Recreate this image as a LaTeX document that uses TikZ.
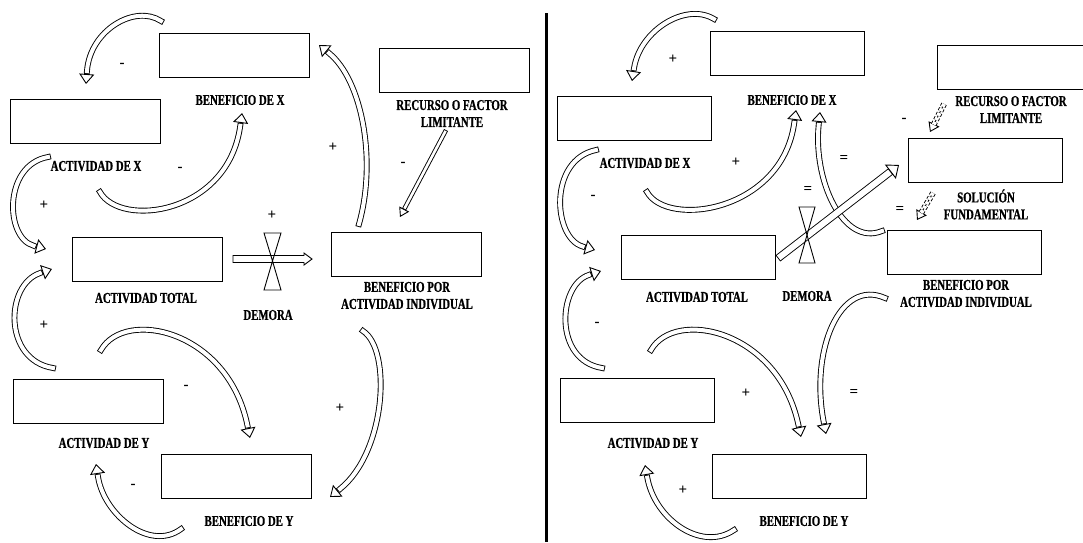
\documentclass[tikz,border=0pt]{standalone}
\usepackage{fontspec}
\setmainfont{Liberation Serif}[FakeStretch=0.72, BoldFeatures={FakeBold=0.8}]
\newfontfamily\signfont{Liberation Serif}
\usetikzlibrary{arrows.meta}
\newcommand\hollowarrow[3]{%
  \draw[line width=0.9pt, -{Triangle[open,line width=0.9pt,#2]}] #3;
  \draw[line width=0.9pt, double=white, #1] #3;}
\newcommand\curvedarrow[1]{\hollowarrow{cv}{length=10pt, width=15pt}{#1}}
\begin{document}
\begin{tikzpicture}[x=1pt,y=-1pt,
  boxL/.style={draw, line width=0.9pt, minimum width=150pt, minimum height=44pt, inner sep=0pt},
  boxR/.style={draw, line width=0.9pt, minimum width=154pt, minimum height=44pt, inner sep=0pt},
  lbl/.style={font=\bfseries\fontsize{15}{17}\selectfont, align=center, inner sep=0pt},
  sgn/.style={font=\signfont\bfseries\fontsize{15}{15}\selectfont, inner sep=0pt},
  cv/.style={double distance=4pt, line cap=rect, shorten >=12.9pt},
  valve/.style={draw, line width=0.9pt, fill=none},
  flow/.style={draw, line width=0.9pt, fill=white, line join=miter}]
\useasboundingbox (0,0) rectangle (1083,542);
% divider
\coordinate (dvt) at (546,13);
\coordinate (dvb) at (546,542);
\draw[line width=3pt] (dvt) -- (dvb);

%================ LEFT PANEL ================
\node[boxL] (bxL) at (234,55.5) {};
\node[boxL] (axL) at (85.5,121) {};
\node[boxL] (rlL) at (454,70) {};
\node[boxL] (atL) at (147,259) {};
\node[boxL] (bpL) at (406,254) {};
\node[boxL] (ayL) at (88,401.5) {};
\node[boxL] (byL) at (236,476) {};

\node[lbl] (tbxL) at (240,100) {BENEFICIO DE X};
\node[lbl] (taxL) at (96,166) {ACTIVIDAD DE X};
\node[lbl] (trlL) at (452,113.5) {RECURSO O FACTOR\\LIMITANTE};
\node[lbl] (tatL) at (146,298) {ACTIVIDAD TOTAL};
\node[lbl] (tdmL) at (268,315) {DEMORA};
\node[lbl] (tbpL) at (407,295.5) {BENEFICIO POR\\ACTIVIDAD INDIVIDUAL};
\node[lbl] (tayL) at (104,443) {ACTIVIDAD DE Y};
\node[lbl] (tbyL) at (249,521) {BENEFICIO DE Y};

\node[sgn] (s1L) at (122,65) {-};
\node[sgn] (s2L) at (180,169) {-};
\node[sgn] (s3L) at (44,205) {+};
\node[sgn] (s4L) at (333,147) {+};
\node[sgn] (s5L) at (403,164) {-};
\node[sgn] (s6L) at (272,215) {+};
\node[sgn] (s7L) at (44,325) {+};
\node[sgn] (s8L) at (186,387) {-};
\node[sgn] (s9L) at (340,408) {+};
\node[sgn] (s10L) at (133,486) {-};

\coordinate (a1t) at (161,21);  \coordinate (a1h) at (86,84);
\coordinate (a2t) at (100,192); \coordinate (a2h) at (242,113);
\coordinate (a3t) at (48,157);  \coordinate (a3h) at (46,249);
\coordinate (a4t) at (53,368);  \coordinate (a4h) at (52,269);
\coordinate (a5t) at (101,350); \coordinate (a5h) at (250,438);
\coordinate (a6t) at (181,529); \coordinate (a6h) at (96,464);
\coordinate (a7t) at (359,224); \coordinate (a7h) at (319,45);
\coordinate (a8t) at (445,132); \coordinate (a8h) at (400,217);
\coordinate (a9t) at (363,331); \coordinate (a9h) at (330,497);
\coordinate (flowLt) at (233,259);

\curvedarrow{(a1t) .. controls (135,4) and (90,30) .. (a1h)}
\curvedarrow{(a2t) .. controls (120,228) and (228,215) .. (a2h)}
\curvedarrow{(a3t) .. controls (3,165) and (5,238) .. (a3h)}
\curvedarrow{(a4t) .. controls (3,360) and (5,285) .. (a4h)}
\curvedarrow{(a5t) .. controls (125,308) and (228,330) .. (a5h)}
\curvedarrow{(a6t) .. controls (150,552) and (104,515) .. (a6h)}
\curvedarrow{(a7t) .. controls (377,160) and (362,80) .. (a7h)}
\curvedarrow{(a9t) .. controls (392,350) and (386,452) .. (a9h)}
\hollowarrow{double distance=2.6pt, line cap=rect, shorten >=10.75pt}{length=9pt, width=11pt}{(a8t) -- (a8h)}
% flow arrow (hollow block arrow)
\path[flow] (flowLt) ++(0,-3.5) -- ++(71,0) -- ++(0,-2.5) -- ++(8,6) -- ++(-8,6) -- ++(0,-2.5) -- ++(-71,0) -- cycle;

\coordinate (vL) at (272.5,261);
\draw[valve] (vL) -- ++(-8.5,-28) -- ++(17,0) -- cycle;
\draw[valve] (vL) -- ++(-8.5,29) -- ++(17,0) -- cycle;

%================ RIGHT PANEL ================
\node[boxR] (bxR) at (787.5,53) {};
\node[boxR] (axR) at (634.5,118.5) {};
\node[boxR] (rlR) at (1014,67.5) {};
\node[boxR] (sfR) at (985,160) {};
\node[boxR] (bpR) at (964.5,252.5) {};
\node[boxR] (atR) at (698,257) {};
\node[boxR] (ayR) at (637,400.5) {};
\node[boxR] (byR) at (789.5,476) {};

\node[lbl] (tbxR) at (792,100) {BENEFICIO DE X};
\node[lbl] (taxR) at (645,163) {ACTIVIDAD DE X};
\node[lbl] (trlR) at (1011,109.5) {RECURSO O FACTOR\\LIMITANTE};
\node[lbl] (tsfR) at (986,204.5) {SOLUCIÓN\\FUNDAMENTAL};
\node[lbl] (tatR) at (697,297) {ACTIVIDAD TOTAL};
\node[lbl] (tdmR) at (807,296) {DEMORA};
\node[lbl] (tbpR) at (966,293.5) {BENEFICIO POR\\ACTIVIDAD INDIVIDUAL};
\node[lbl] (tayR) at (653,443) {ACTIVIDAD DE Y};
\node[lbl] (tbyR) at (804,521) {BENEFICIO DE Y};

\node[sgn] (s1R) at (673,59) {+};
\node[sgn] (s2R) at (736,162) {+};
\node[sgn] (s3R) at (593,197) {-};
\node[sgn] (s4R) at (808,190) {=};
\node[sgn] (s5R) at (844,159) {=};
\node[sgn] (s6R) at (904,120) {-};
\node[sgn] (s7R) at (900,210) {=};
\node[sgn] (s8R) at (597,324) {-};
\node[sgn] (s9R) at (746,393) {+};
\node[sgn] (s10R) at (854,393) {=};
\node[sgn] (s11R) at (683,490) {+};

\coordinate (r1t) at (714,19);  \coordinate (r1h) at (632,81);
\coordinate (r2t) at (647,192); \coordinate (r2h) at (796,110);
\coordinate (r3t) at (596,150); \coordinate (r3h) at (595,250);
\coordinate (r4t) at (602,368); \coordinate (r4h) at (601,271);
\coordinate (r5t) at (651,350); \coordinate (r5h) at (801,437);
\coordinate (r6t) at (734,530); \coordinate (r6h) at (645,465);
\coordinate (r7t) at (885,298); \coordinate (r7h) at (826,434);
\coordinate (r8t) at (882,231); \coordinate (r8h) at (820,112);
\coordinate (r9t) at (781,256); \coordinate (r9h) at (899,165);
\coordinate (r10t) at (944,104); \coordinate (r10h) at (930,132);
\coordinate (r11t) at (933,193); \coordinate (r11h) at (917,220);

\curvedarrow{(r1t) .. controls (686,2) and (640,30) .. (r1h)}
\curvedarrow{(r2t) .. controls (667,228) and (782,212) .. (r2h)}
\curvedarrow{(r3t) .. controls (548,160) and (553,238) .. (r3h)}
\curvedarrow{(r4t) .. controls (553,360) and (558,285) .. (r4h)}
\curvedarrow{(r5t) .. controls (675,308) and (778,330) .. (r5h)}
\curvedarrow{(r6t) .. controls (702,552) and (655,520) .. (r6h)}
\curvedarrow{(r7t) .. controls (840,278) and (810,350) .. (r7h)}
\curvedarrow{(r8t) .. controls (843,247) and (813,180) .. (r8h)}
\hollowarrow{double distance=6pt, line cap=rect, shorten >=14.4pt}{length=11pt, width=18pt}{(r9t) -- (r9h)}
\hollowarrow{double distance=4pt, shorten >=8pt, dash pattern=on 3pt off 2pt}{length=9pt, width=12pt}{(r10t) -- (r10h)}
\hollowarrow{double distance=4pt, shorten >=8pt, dash pattern=on 3pt off 2pt}{length=9pt, width=12pt}{(r11t) -- (r11h)}

\coordinate (vR) at (807,235);
\draw[valve] (vR) -- ++(-8,-28) -- ++(16,0) -- cycle;
\draw[valve] (vR) -- ++(-8,28) -- ++(16,0) -- cycle;
\end{tikzpicture}
\end{document}
